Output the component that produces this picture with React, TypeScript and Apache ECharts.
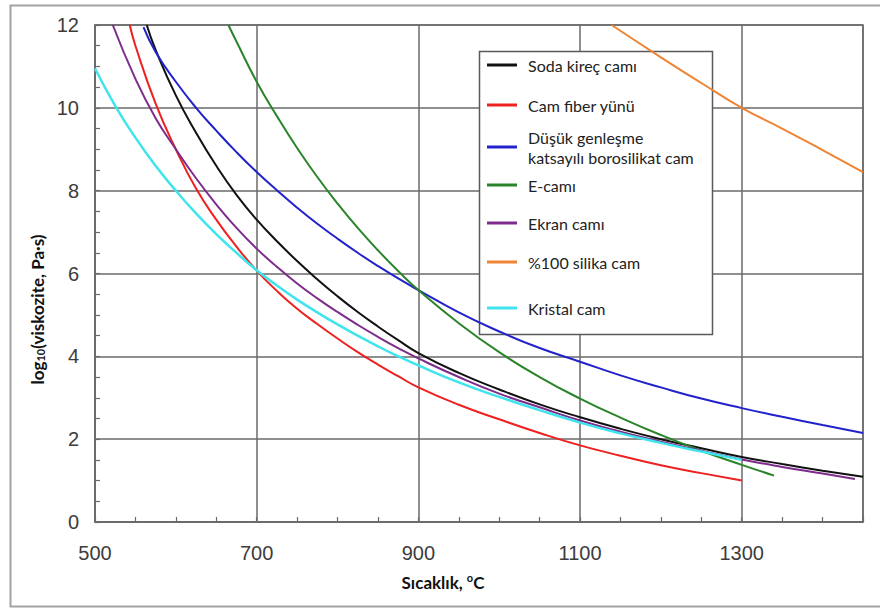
import React, { useEffect, useRef } from "react";
import * as echarts from "echarts";

// Glass viscosity curves: log10(viscosity, Pa·s) against temperature (°C)
const seriesNames = [
  "Soda kireç camı",
  "Cam fiber yünü",
  "Düşük genleşme\nkatsayılı borosilikat cam",
  "E-camı",
  "Ekran camı",
  "%100 silika cam",
  "Kristal cam",
];

const sodaTemps = [564, 575, 600, 625, 650, 675, 700, 725, 750, 775, 800, 825, 850, 875, 900, 950, 1000, 1050, 1100, 1150, 1200, 1250, 1300, 1350, 1400, 1450];
const sodaVals = [12, 11.4, 10.3, 9.4, 8.6, 7.9, 7.3, 6.78, 6.3, 5.86, 5.45, 5.07, 4.72, 4.39, 4.08, 3.6, 3.2, 2.84, 2.53, 2.25, 2.0, 1.78, 1.57, 1.4, 1.24, 1.09];

const fiberTemps = [543, 550, 575, 600, 625, 650, 675, 700, 725, 750, 775, 800, 825, 850, 875, 900, 950, 1000, 1050, 1100, 1150, 1200, 1250, 1300];
const fiberVals = [12, 11.5, 10.1, 9.0, 8.05, 7.3, 6.65, 6.07, 5.58, 5.15, 4.78, 4.43, 4.1, 3.8, 3.52, 3.25, 2.83, 2.48, 2.15, 1.85, 1.6, 1.37, 1.18, 1.0];

const boroTemps = [560, 575, 600, 625, 650, 675, 700, 725, 750, 775, 800, 825, 850, 875, 900, 950, 1000, 1050, 1100, 1150, 1200, 1250, 1300, 1350, 1400, 1450];
const boroVals = [11.95, 11.35, 10.63, 10.0, 9.45, 8.93, 8.45, 8.01, 7.59, 7.2, 6.84, 6.5, 6.18, 5.88, 5.6, 5.06, 4.6, 4.2, 3.87, 3.54, 3.25, 2.98, 2.75, 2.54, 2.34, 2.15];

const eGlassTemps = [665, 675, 700, 725, 750, 775, 800, 825, 850, 875, 900, 950, 1000, 1050, 1100, 1150, 1200, 1250, 1300, 1340];
const eGlassVals = [12, 11.6, 10.63, 9.8, 9.03, 8.33, 7.69, 7.1, 6.56, 6.06, 5.6, 4.8, 4.1, 3.5, 2.98, 2.52, 2.1, 1.72, 1.38, 1.12];

const screenTemps = [522, 550, 575, 600, 625, 650, 675, 700, 725, 750, 775, 800, 825, 850, 875, 900, 950, 1000, 1050, 1100, 1150, 1200, 1250, 1300, 1350, 1400, 1440];
const screenVals = [12, 10.7, 9.75, 9.0, 8.3, 7.67, 7.1, 6.6, 6.16, 5.76, 5.4, 5.07, 4.76, 4.47, 4.2, 3.95, 3.5, 3.1, 2.77, 2.45, 2.18, 1.94, 1.72, 1.51, 1.33, 1.17, 1.04];

const silicaTemps = [1139, 1200, 1250, 1300, 1350, 1400, 1450];
const silicaVals = [12, 11.22, 10.6, 10, 9.5, 8.98, 8.45];

const crystalTemps = [500, 525, 550, 575, 600, 625, 650, 675, 700, 725, 750, 775, 800, 825, 850, 875, 900, 950, 1000, 1050, 1100, 1150, 1200, 1250, 1300];
const crystalVals = [10.95, 10.05, 9.28, 8.6, 8.0, 7.45, 6.95, 6.5, 6.08, 5.71, 5.37, 5.06, 4.77, 4.5, 4.24, 4.0, 3.78, 3.37, 3.02, 2.7, 2.4, 2.14, 1.91, 1.7, 1.5];

const temps = [sodaTemps, fiberTemps, boroTemps, eGlassTemps, screenTemps, silicaTemps, crystalTemps];
const vals = [sodaVals, fiberVals, boroVals, eGlassVals, screenVals, silicaVals, crystalVals];
const colors = ["#111111", "#ee2020", "#2222cc", "#2a842a", "#7e2c8c", "#ee8434", "#3fe4ec"];

const xMin = 500;
const xMax = 1450;
const yMin = 0;
const yMax = 12;

// vertical centre of each legend row
const legendRowCenters = [65, 105, 147, 185, 223, 262, 308];

export default function App() {
  const ref = useRef<HTMLDivElement>(null);

  useEffect(() => {
    if (!ref.current) return;
    const chart = echarts.init(ref.current, undefined, { renderer: "svg" });

    const series = seriesNames.map((name, i) => ({
      name,
      type: "line",
      data: temps[i].map((t, k) => [t, vals[i][k]]),
      showSymbol: false,
      smooth: 0.5,
      clip: true,
      lineStyle: { color: colors[i], width: i === 6 ? 2.5 : 2 },
      itemStyle: { color: colors[i] },
      xAxisIndex: 0,
      yAxisIndex: 0,
      z: 2,
    }));

    const legends = seriesNames.map((name, i) => {
      const lines = name.split("\n").length;
      return {
        data: [name],
        orient: "vertical",
        left: 487,
        top: legendRowCenters[i] - lines * 10,
        padding: 0,
        itemGap: 0,
        itemWidth: 30,
        itemHeight: 3,
        icon: "rect",
        selectedMode: false,
        textStyle: {
          fontFamily: "Lato",
          fontSize: 16,
          lineHeight: 20,
          color: "#222",
          padding: [0, 0, 0, 6],
        },
      };
    });

    const tickFont = { fontFamily: "Liberation Sans", fontSize: 20, color: "#3c3c3c" };

    chart.setOption({
      animation: false,
      backgroundColor: "#ffffff",
      grid: {
        left: 95,
        top: 25,
        right: 17,
        bottom: 86,
        show: true,
        borderColor: "#6a6a6a",
        borderWidth: 1.5,
        backgroundColor: "transparent",
      },
      legend: legends,
      xAxis: [
        {
          type: "value",
          min: xMin,
          max: xMax,
          interval: 200,
          name: "Sıcaklık, {sup|o}C",
          nameLocation: "middle",
          nameGap: 50,
          nameTextStyle: {
            fontFamily: "Lato",
            fontWeight: "bold",
            fontSize: 17,
            color: "#111",
            padding: [0, 72, 0, 0],
            rich: {
              sup: {
                fontFamily: "Lato",
                fontWeight: "bold",
                fontSize: 11,
                color: "#111",
                verticalAlign: "top",
                lineHeight: 21,
              },
            },
          },
          axisLine: { show: true, lineStyle: { color: "#6a6a6a", width: 1.5 } },
          axisTick: { show: false },
          axisLabel: {
            ...tickFont,
            margin: 21,
            showMaxLabel: false,
            formatter: (v: number) => String(v),
          },
          splitLine: { show: true, lineStyle: { color: "#6a6a6a", width: 1.5 } },
        },
        {
          // minor ticks every 50 °C along the bottom edge
          type: "value",
          min: xMin,
          max: xMax,
          interval: 50,
          position: "bottom",
          axisLine: { show: false },
          axisTick: { show: true, inside: true, length: 5, lineStyle: { color: "#6a6a6a", width: 1.2 } },
          axisLabel: { show: false },
          splitLine: { show: false },
        },
      ],
      yAxis: {
        type: "value",
        min: yMin,
        max: yMax,
        interval: 2,
        name: "log{sub|10}(viskozite, Pa·s)",
        nameLocation: "middle",
        nameGap: 43,
        nameTextStyle: {
          fontFamily: "Lato",
          fontWeight: "bold",
          fontSize: 17,
          color: "#111",
          padding: [0, 72, 0, 0],
          rich: {
            sub: {
              fontFamily: "Lato",
              fontWeight: "bold",
              fontSize: 11,
              color: "#111",
              verticalAlign: "bottom",
              lineHeight: 14,
            },
          },
        },
        axisLine: { show: true, lineStyle: { color: "#6a6a6a", width: 1.5 } },
        axisTick: { show: true, inside: true, length: 5, lineStyle: { color: "#6a6a6a", width: 1.2 } },
        minorTick: { show: true, splitNumber: 4, length: 5, lineStyle: { color: "#6a6a6a", width: 1.2 } },
        axisLabel: { ...tickFont, margin: 16 },
        splitLine: { show: true, lineStyle: { color: "#6a6a6a", width: 1.5 } },
      },
      graphic: [
        {
          // outer frame
          type: "rect",
          z: 0,
          shape: { x: 10.5, y: 5.5, width: 900, height: 601 },
          style: { fill: "none", stroke: "#a3a3a3", lineWidth: 2 },
        },
        {
          // legend box
          type: "rect",
          z: 1,
          shape: { x: 479.5, y: 51.5, width: 233, height: 283 },
          style: { fill: "#ffffff", stroke: "#5a5a5a", lineWidth: 1.5 },
        },
      ],
      series,
    });

    return () => {
      chart.dispose();
    };
  }, []);

  return (
    <div
      ref={ref}
      style={{ position: "fixed", left: 0, top: 0, width: 880, height: 608, background: "#fff" }}
    />
  );
}
